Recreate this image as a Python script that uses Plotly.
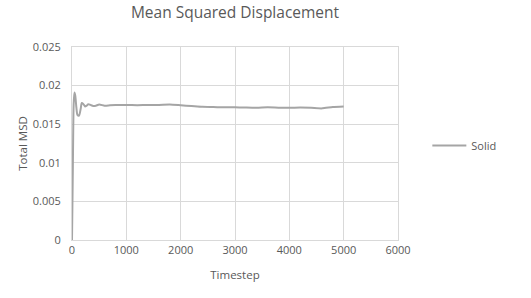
import plotly.graph_objects as go

timestep = [0, 15, 30, 45, 60, 80, 100, 130, 160, 180, 210, 240, 270, 300, 340, 390, 440, 500,
            600, 700, 800, 1000, 1200, 1400, 1600, 1800, 2000, 2200, 2400, 2600, 2800, 3000,
            3200, 3400, 3600, 3800, 4000, 4200, 4400, 4600, 4800, 5000]
msd = [0.0, 0.0090, 0.0175, 0.0191, 0.0187, 0.0172, 0.0162, 0.0161, 0.0170, 0.01775, 0.0176,
       0.0173, 0.0174, 0.0176, 0.0175, 0.01736, 0.0174, 0.01755, 0.0174, 0.01745, 0.01748,
       0.01748, 0.01747, 0.01750, 0.01750, 0.01755, 0.01745, 0.01735, 0.01725, 0.01722, 0.01718,
       0.01720, 0.01715, 0.01712, 0.01718, 0.01714, 0.01712, 0.01715, 0.01712, 0.01705, 0.01722,
       0.01730]

FONT = "Open Sans"
TXT = "#595959"
GRID = "#d9d9d9"

fig = go.Figure()
fig.add_trace(go.Scatter(x=timestep, y=msd, mode="lines", name="Solid",
                         line=dict(color="#a5a5a5", width=2, shape="spline", smoothing=0.6)))

fig.update_layout(
    width=531, height=298,
    margin=dict(l=72, r=133, t=47, b=58),
    paper_bgcolor="white", plot_bgcolor="white",
    font=dict(family=FONT, size=11, color=TXT),
    title=dict(text="Mean Squared Displacement", x=0.5, xref="paper", xanchor="center",
               y=1 - 13 / 298, yanchor="middle", font=dict(family=FONT, size=15.5, color=TXT)),
    showlegend=True,
    legend=dict(x=1.09, xanchor="left", y=0.49, yanchor="middle", font=dict(size=11, color=TXT),
                bgcolor="rgba(0,0,0,0)", itemwidth=34),
    xaxis=dict(range=[0, 6000], tickvals=[0, 1000, 2000, 3000, 4000, 5000, 6000],
               ticktext=["0", "1000", "2000", "3000", "4000", "5000", "6000"],
               showgrid=True, gridcolor=GRID, gridwidth=1, zeroline=False,
               showline=True, linecolor=GRID, linewidth=1, mirror=True, ticks="",
               title=dict(text="Timestep", standoff=14, font=dict(size=11.5, color=TXT))),
    yaxis=dict(range=[0, 0.025], tickvals=[0, 0.005, 0.01, 0.015, 0.02, 0.025],
               ticktext=["0", "0.005", "0.01", "0.015", "0.02", "0.025"],
               showgrid=True, gridcolor=GRID, gridwidth=1, zeroline=False,
               showline=True, linecolor=GRID, linewidth=1, mirror=True, ticks="",
               ticklabelstandoff=8,
               title=dict(text="Total MSD", standoff=2, font=dict(size=11.5, color=TXT))),
)

fig.write_html("out.html")
